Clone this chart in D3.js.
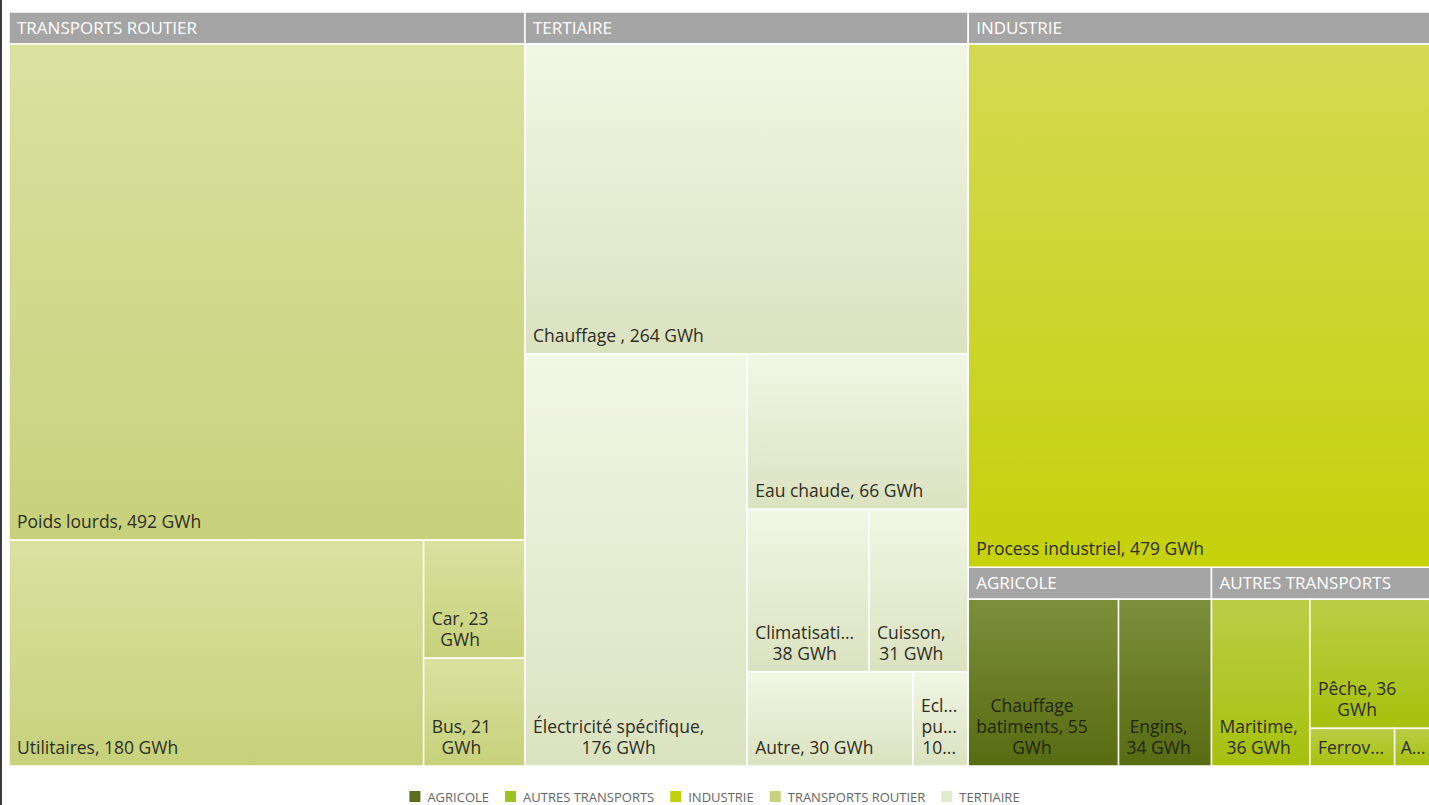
<!DOCTYPE html>
<html>
<head>
<meta charset="utf-8">
<script src="https://cdn.jsdelivr.net/npm/d3@7"></script>
<style>
  html, body { margin: 0; padding: 0; background: #fff; overflow: hidden; }
  svg { display: block; }
</style>
</head>
<body>
<div id="chart"></div>
<script>
// groups (top level of the treemap), in drawing order
const groupNames = ["TRANSPORTS ROUTIER", "TERTIAIRE", "INDUSTRIE", "AGRICOLE", "AUTRES TRANSPORTS"];

// leaves per group, GWh
const routierNames = ["Poids lourds", "Utilitaires", "Car", "Bus"];
const routierValues = [492, 180, 23, 21];
const tertiaireNames = ["Chauffage ", "Électricité spécifique", "Eau chaude", "Climatisation", "Cuisson", "Autre", "Eclairage public"];
const tertiaireValues = [264, 176, 66, 38, 31, 30, 10];
const industrieNames = ["Process industriel"];
const industrieValues = [479];
const agricoleNames = ["Chauffage batiments", "Engins"];
const agricoleValues = [55, 34];
const autresNames = ["Maritime", "Pêche", "Ferroviaire", "Aérien"];
const autresValues = [36, 36, 7, 3.5];

// legend is alphabetical
const legendNames = ["AGRICOLE", "AUTRES TRANSPORTS", "INDUSTRIE", "TRANSPORTS ROUTIER", "TERTIAIRE"];

/** colours: [top of cell, bottom of cell, legend swatch] */
const groupColors = {
  "TRANSPORTS ROUTIER": ["#d9e29f", "#c7d17b", "#c6d27d"],
  "TERTIAIRE": ["#f2f6e5", "#dbe2c0", "#e3e9cf"],
  "INDUSTRIE": ["#d3da52", "#c5d10a", "#c3cf0b"],
  "AGRICOLE": ["#7d8f3b", "#576b11", "#5b6e1c"],
  "AUTRES TRANSPORTS": ["#b9ce47", "#a6c10c", "#9dc21f"]
};

const leafNames = [routierNames, tertiaireNames, industrieNames, agricoleNames, autresNames];
const leafValues = [routierValues, tertiaireValues, industrieValues, agricoleValues, autresValues];

const width = 1429, height = 805;
// the chart runs a little past the right edge of the window
const plot = { left: 9, top: 12, right: 1437, bottom: 766 };
const headerH = 32;
const lineH = 21;
const labelSize = 17.5;

const data = {
  name: "root",
  children: groupNames.map((g, i) => ({
    name: g,
    children: leafNames[i].map((n, j) => ({ name: n, value: leafValues[i][j], group: g }))
  }))
};

const root = d3.hierarchy(data)
  .sum(d => d.value || 0)
  .sort((a, b) => b.value - a.value);

d3.treemap()
  .tile(d3.treemapSquarify.ratio(1))
  .size([plot.right - plot.left, plot.bottom - plot.top])
  .paddingTop(d => d.depth === 1 ? headerH : 0)
  .round(false)(root);

const svg = d3.select("#chart").append("svg")
  .attr("width", width)
  .attr("height", height);

// gradients, one per group
const defs = svg.append("defs");
groupNames.forEach((g, i) => {
  const grad = defs.append("linearGradient")
    .attr("id", "grad" + i)
    .attr("x1", 0).attr("y1", 0).attr("x2", 0).attr("y2", 1);
  grad.append("stop").attr("offset", "0%").attr("stop-color", groupColors[g][0]);
  grad.append("stop").attr("offset", "100%").attr("stop-color", groupColors[g][1]);
});

// dark edge on the far left
svg.append("line")
  .attr("x1", 1).attr("x2", 1).attr("y1", 0).attr("y2", height)
  .attr("stroke", "#3a3a3a").attr("stroke-width", 2);

const g = svg.append("g")
  .attr("transform", "translate(" + plot.left + "," + plot.top + ")");

// group headers
const groups = g.selectAll("g.group")
  .data(root.children)
  .join("g")
  .attr("class", "group");

groups.append("rect")
  .attr("x", d => d.x0)
  .attr("y", d => d.y0)
  .attr("width", d => d.x1 - d.x0)
  .attr("height", headerH)
  .attr("fill", "#a5a5a5")
  .attr("stroke", "#fff")
  .attr("stroke-width", 1.5);

groups.append("text")
  .attr("x", d => d.x0 + 8)
  .attr("y", d => d.y0 + 22)
  .attr("fill", "#fff")
  .style("font-family", "'Open Sans', sans-serif")
  .style("font-size", "17px")
  .text(d => d.data.name);

// leaves
const leaves = g.selectAll("g.leaf")
  .data(root.leaves())
  .join("g")
  .attr("class", "leaf");

leaves.append("rect")
  .attr("x", d => d.x0)
  .attr("y", d => d.y0)
  .attr("width", d => d.x1 - d.x0)
  .attr("height", d => d.y1 - d.y0)
  .attr("fill", d => "url(#grad" + groupNames.indexOf(d.data.group) + ")")
  .attr("stroke", "#fff")
  .attr("stroke-width", 1.5);

const labelFont = "'Open Sans', sans-serif";
const measurer = svg.append("text")
  .style("font-family", labelFont)
  .style("font-size", labelSize + "px")
  .attr("visibility", "hidden");

function textWidth(s) {
  measurer.text(s);
  return measurer.node().getComputedTextLength();
}

function shorten(word, maxW) {
  if (textWidth(word) <= maxW) return word;
  let s = word;
  while (s.length > 1 && textWidth(s + "...") > maxW) s = s.slice(0, -1);
  return s + "...";
}

/** Wrap a label into the cell, truncating with "..." like the original */
function wrapLabel(label, maxW, maxLines) {
  const words = label.split(" ").filter(w => w.length);
  const lines = [];
  let cur = "";
  words.forEach(w => {
    const test = cur ? cur + " " + w : w;
    if (textWidth(test) <= maxW) {
      cur = test;
    } else {
      if (cur) lines.push(cur);
      // a cut word may use a bit more room
      cur = shorten(w, maxW + 4);
    }
  });
  if (cur) lines.push(cur);
  if (lines.length > maxLines) {
    const kept = lines.slice(0, maxLines);
    const last = kept[maxLines - 1];
    if (!last.endsWith("...")) {
      let s = last;
      while (s.length > 1 && textWidth(s + "...") > maxW + 4) s = s.slice(0, -1);
      kept[maxLines - 1] = s + "...";
    }
    return kept;
  }
  return lines;
}

leaves.each(function(d) {
  // only the visible part of the cell counts for the label
  const visibleRight = Math.min(d.x1, width - plot.left);
  const w = visibleRight - d.x0, h = d.y1 - d.y0;
  const pad = w < 40 ? 6 : 8;
  const label = d.data.name + ", " + d3.format("~r")(d.data.value) + " GWh";
  const maxLines = Math.max(1, Math.floor((h - 16) / lineH));
  const lines = wrapLabel(label, w - 20, maxLines);
  const blockW = d3.max(lines, l => textWidth(l));
  const t = d3.select(this).append("text")
    .style("font-family", labelFont)
    .style("font-size", labelSize + "px")
    .attr("fill", d.data.group === "AGRICOLE" ? "#1f2606" : "#2e2e22")
    .attr("text-anchor", "middle");
  lines.forEach((l, i) => {
    t.append("tspan")
      .attr("x", d.x0 + pad + blockW / 2)
      .attr("y", d.y1 - 12 - (lines.length - 1 - i) * lineH)
      .text(l);
  });
});

measurer.remove();

// legend
const legend = svg.append("g").attr("class", "legend");
const legendFont = 13;
const swatch = 11, swatchGap = 7, itemGap = 16;
let lx = 0;
const items = legendNames.map(n => {
  const tmp = legend.append("text")
    .style("font-family", "'Open Sans', sans-serif")
    .style("font-size", legendFont + "px")
    .text(n);
  const tw = tmp.node().getComputedTextLength();
  tmp.remove();
  const item = { name: n, x: lx, tw: tw };
  lx += swatch + swatchGap + tw + itemGap;
  return item;
});
const legendW = lx - itemGap;
const legendX = (width - legendW) / 2;
const legendY = 802;

const li = legend.selectAll("g")
  .data(items)
  .join("g")
  .attr("transform", d => "translate(" + (legendX + d.x) + "," + legendY + ")");

li.append("rect")
  .attr("x", 0).attr("y", -swatch)
  .attr("width", swatch).attr("height", swatch)
  .attr("fill", d => groupColors[d.name][2]);

li.append("text")
  .attr("x", swatch + swatchGap)
  .attr("y", 0)
  .attr("fill", "#666")
  .style("font-family", "'Open Sans', sans-serif")
  .style("font-size", legendFont + "px")
  .text(d => d.name);
</script>
</body>
</html>
